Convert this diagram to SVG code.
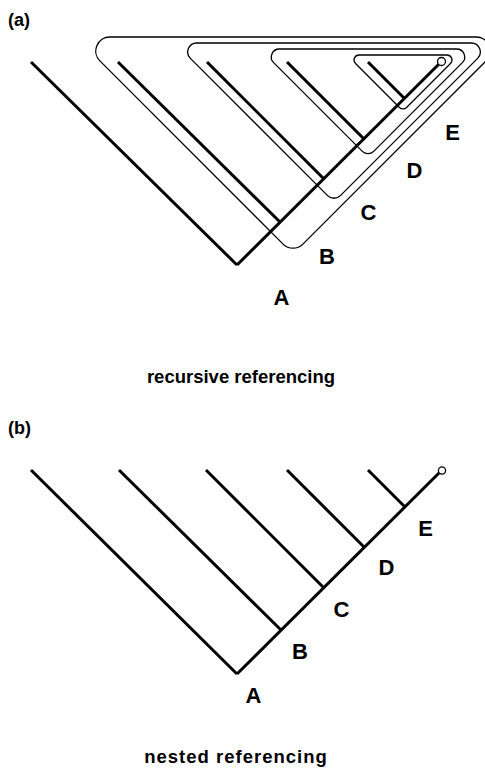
<svg xmlns="http://www.w3.org/2000/svg" width="485" height="768" viewBox="0 0 485 768">
<style>
.tree{fill:none;stroke:#000;stroke-width:3;stroke-linecap:butt}
.loop{fill:none;stroke:#000;stroke-width:1.3}
.tip{fill:#fff;stroke:#000;stroke-width:1.3}
.lbl{font-family:"Liberation Sans",Arial,sans-serif;font-weight:bold;font-size:22px;text-anchor:middle;fill:#000}
.pan{font-family:"Liberation Sans",Arial,sans-serif;font-weight:bold;font-size:18px;fill:#000}
.cap{font-family:"Liberation Sans",Arial,sans-serif;font-weight:bold;font-size:18.5px;text-anchor:middle;fill:#000}
</style>
<rect width="485" height="768" fill="#fff"/>
<text class="pan" x="8" y="26">(a)</text>
<g id="treeA">
  <g id="connectorsA">
    <line class="tree" x1="31" y1="62" x2="237" y2="265"/>
    <line class="tree" x1="237" y1="265" x2="439" y2="64"/>
    <line class="tree" x1="118" y1="62" x2="280" y2="222"/>
    <line class="tree" x1="207" y1="62" x2="323.5" y2="178.5"/>
    <line class="tree" x1="287" y1="62" x2="363.5" y2="138.5"/>
    <line class="tree" x1="368" y1="62" x2="404" y2="98"/>
  </g>
  <g id="loopB"><path class="loop" d="M109.8,37 L476.2,37 A14,14 0 0 1 486.1,60.9 L302.9,244.1 A14,14 0 0 1 283.1,244.1 L99.9,60.9 A14,14 0 0 1 109.8,37 Z"/></g>
  <g id="loopC"><path class="loop" d="M196.7,43 L471.3,43 A9,9 0 0 1 477.6,58.4 L340.4,195.6 A9,9 0 0 1 327.6,195.6 L190.4,58.4 A9,9 0 0 1 196.7,43 Z"/></g>
  <g id="loopD"><path class="loop" d="M279.3,49 L456.7,49 A8,8 0 0 1 462.35,62.65 L373.66,151.34 A8,8 0 0 1 362.34,151.34 L273.65,62.65 A8,8 0 0 1 279.3,49 Z"/></g>
  <g id="loopE"><path class="loop" d="M359.07,55 L446.93,55 A5,5 0 0 1 450.46,63.54 L406.54,107.46 A5,5 0 0 1 399.46,107.46 L355.54,63.54 A5,5 0 0 1 359.07,55 Z"/></g>
  <g id="tipA"><circle class="tip" cx="441.5" cy="61.5" r="4"/></g>
  <g id="labelsA">
    <text class="lbl" x="281.5" y="305">A</text>
    <text class="lbl" x="327" y="264">B</text>
    <text class="lbl" x="368.5" y="220">C</text>
    <text class="lbl" x="414.5" y="178">D</text>
    <text class="lbl" x="452.5" y="139.5">E</text>
  </g>
</g>
<text class="cap" x="241" y="383">recursive referencing</text>
<text class="pan" x="8" y="434">(b)</text>
<g id="treeB">
  <g id="connectorsB">
    <line class="tree" x1="31" y1="470" x2="237" y2="674"/>
    <line class="tree" x1="237" y1="674" x2="439.5" y2="472.5"/>
    <line class="tree" x1="119" y1="470" x2="281" y2="630"/>
    <line class="tree" x1="206" y1="470" x2="323" y2="587"/>
    <line class="tree" x1="287" y1="470" x2="364" y2="547"/>
    <line class="tree" x1="368" y1="470" x2="405" y2="507"/>
  </g>
  <g id="tipB"><circle class="tip" cx="442" cy="470.5" r="3.6"/></g>
  <g id="labelsB">
    <text class="lbl" x="253.5" y="703">A</text>
    <text class="lbl" x="300" y="659">B</text>
    <text class="lbl" x="341.5" y="617">C</text>
    <text class="lbl" x="386.5" y="575">D</text>
    <text class="lbl" x="425.5" y="536">E</text>
  </g>
</g>
<text class="cap" x="236" y="763" letter-spacing="1">nested referencing</text>
</svg>
